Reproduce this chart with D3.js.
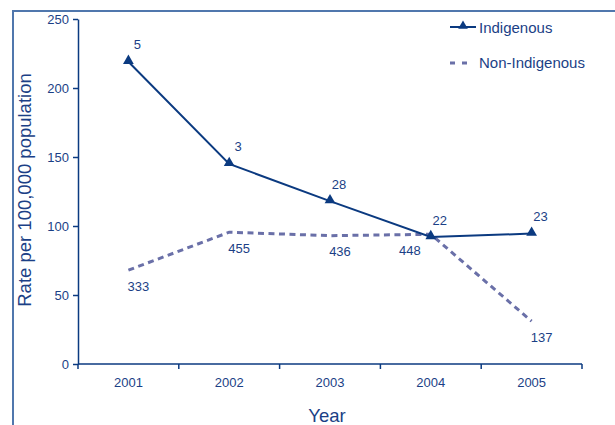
<!DOCTYPE html>
<html>
<head>
<meta charset="utf-8">
<script src="https://cdn.jsdelivr.net/npm/d3@7"></script>
<style>
  body { margin: 0; background: #fff; }
  text { font-family: "Liberation Sans", Arial, sans-serif; fill: #1b3f86; }
</style>
</head>
<body>
<script>
const years = ["2001", "2002", "2003", "2004", "2005"];
const indigenous = [219, 145, 118, 92, 94.5];
const nonIndigenous = [68, 95.5, 93, 94, 31];
const indigenousCounts = ["5", "3", "28", "22", "23"];
const nonIndigenousCounts = ["333", "455", "436", "448", "137"];
const yTicks = [0, 50, 100, 150, 200, 250];

const W = 615, H = 425;
const margin = { top: 19, right: 33, bottom: 61, left: 78 };

const darkBlue = "#0b3a80",
    dashBlue = "#6a70a8",
    frameBlue = "#5077ad";

const svg = d3.select("body")
    .append("svg")
    .attr("width", W)
    .attr("height", H);

// outer frame (runs off the right and bottom edges)
svg.append("rect")
    .attr("x", 13)
    .attr("y", 11)
    .attr("width", W)
    .attr("height", H)
    .attr("fill", "none")
    .attr("stroke", frameBlue)
    .attr("stroke-width", 2);

const x = d3.scaleBand()
    .domain(years)
    .range([margin.left, W - margin.right]);

const y = d3.scaleLinear()
    .domain([0, 250])
    .range([H - margin.bottom, margin.top]);

const cx = d => x(d) + x.bandwidth() / 2;

// y axis
const yAxis = svg.append("g")
    .attr("transform", "translate(" + margin.left + ",0)")
    .call(d3.axisLeft(y).tickValues(yTicks).tickSize(5).tickSizeOuter(0).tickPadding(4));
yAxis.select(".domain").attr("stroke", darkBlue).attr("stroke-width", 1.5);
yAxis.selectAll(".tick line").attr("stroke", darkBlue).attr("stroke-width", 1.5);
yAxis.selectAll(".tick text")
    .style("font-size", "13px")
    .style("font-family", "Liberation Sans, Arial, sans-serif")
    .attr("fill", "#1b3f86");

// x axis: labels centred in bands, ticks on band edges
const xAxis = svg.append("g")
    .attr("transform", "translate(0," + y(0) + ")")
    .call(d3.axisBottom(x).tickSize(0).tickPadding(14));
xAxis.select(".domain").remove();
xAxis.selectAll(".tick text")
    .style("font-size", "13px")
    .style("font-family", "Liberation Sans, Arial, sans-serif")
    .attr("fill", "#1b3f86");

svg.append("line")
    .attr("x1", margin.left)
    .attr("x2", W - margin.right)
    .attr("y1", y(0))
    .attr("y2", y(0))
    .attr("stroke", darkBlue)
    .attr("stroke-width", 1.5);

svg.append("g")
    .selectAll("line")
    .data(years.map(d => x(d)).concat([x(years[years.length - 1]) + x.bandwidth()]))
    .join("line")
    .attr("x1", d => d)
    .attr("x2", d => d)
    .attr("y1", y(0))
    .attr("y2", y(0) + 5)
    .attr("stroke", darkBlue)
    .attr("stroke-width", 1.5);

// axis titles
svg.append("text")
    .attr("transform", "translate(31,190) rotate(-90)")
    .attr("text-anchor", "middle")
    .style("font-size", "18.5px")
    .text("Rate per 100,000 population");

svg.append("text")
    .attr("x", 327)
    .attr("y", 422)
    .attr("text-anchor", "middle")
    .style("font-size", "18.5px")
    .text("Year");

const line = d3.line()
    .x((d, i) => cx(years[i]))
    .y(d => y(d));

// Non-Indigenous dashed line
svg.append("path")
    .datum(nonIndigenous)
    .attr("d", line)
    .attr("fill", "none")
    .attr("stroke", dashBlue)
    .attr("stroke-width", 3)
    .attr("stroke-dasharray", "6,4.5");

// Indigenous solid line with triangles
svg.append("path")
    .datum(indigenous)
    .attr("d", line)
    .attr("fill", "none")
    .attr("stroke", darkBlue)
    .attr("stroke-width", 2);

svg.append("g")
    .selectAll("path")
    .data(indigenous)
    .join("path")
    .attr("transform", (d, i) => "translate(" + cx(years[i]) + "," + (y(d) - 1) + ")")
    .attr("d", d3.symbol(d3.symbolTriangle, 50))
    .attr("fill", darkBlue);

// data labels
svg.append("g")
    .selectAll("text")
    .data(indigenousCounts)
    .join("text")
    .attr("x", (d, i) => cx(years[i]) + 9)
    .attr("y", (d, i) => y(indigenous[i]) - 17)
    .attr("dy", "0.35em")
    .attr("text-anchor", "middle")
    .style("font-size", "13px")
    .text(d => d);

// label for 2004 sits left of the crossing
const nonShift = { "2004": -21 };
svg.append("g")
    .selectAll("text")
    .data(nonIndigenousCounts)
    .join("text")
    .attr("x", (d, i) => cx(years[i]) + (nonShift[years[i]] || 10))
    .attr("y", (d, i) => y(nonIndigenous[i]) + 16)
    .attr("dy", "0.35em")
    .attr("text-anchor", "middle")
    .style("font-size", "13px")
    .text(d => d);

// legend
const legend = svg.append("g").attr("transform", "translate(450,0)");
legend.append("line")
    .attr("x1", 0).attr("x2", 26)
    .attr("y1", 27).attr("y2", 27)
    .attr("stroke", darkBlue)
    .attr("stroke-width", 2);
legend.append("path")
    .attr("transform", "translate(13,26)")
    .attr("d", d3.symbol(d3.symbolTriangle, 40))
    .attr("fill", darkBlue);
legend.append("text")
    .attr("x", 29).attr("y", 28)
    .attr("dy", "0.35em")
    .style("font-size", "15px")
    .text("Indigenous");

legend.append("line")
    .attr("x1", 0).attr("x2", 18)
    .attr("y1", 63).attr("y2", 63)
    .attr("stroke", dashBlue)
    .attr("stroke-width", 3)
    .attr("stroke-dasharray", "5,7");
legend.append("text")
    .attr("x", 29).attr("y", 63)
    .attr("dy", "0.35em")
    .style("font-size", "15px")
    .text("Non-Indigenous");
</script>
</body>
</html>
